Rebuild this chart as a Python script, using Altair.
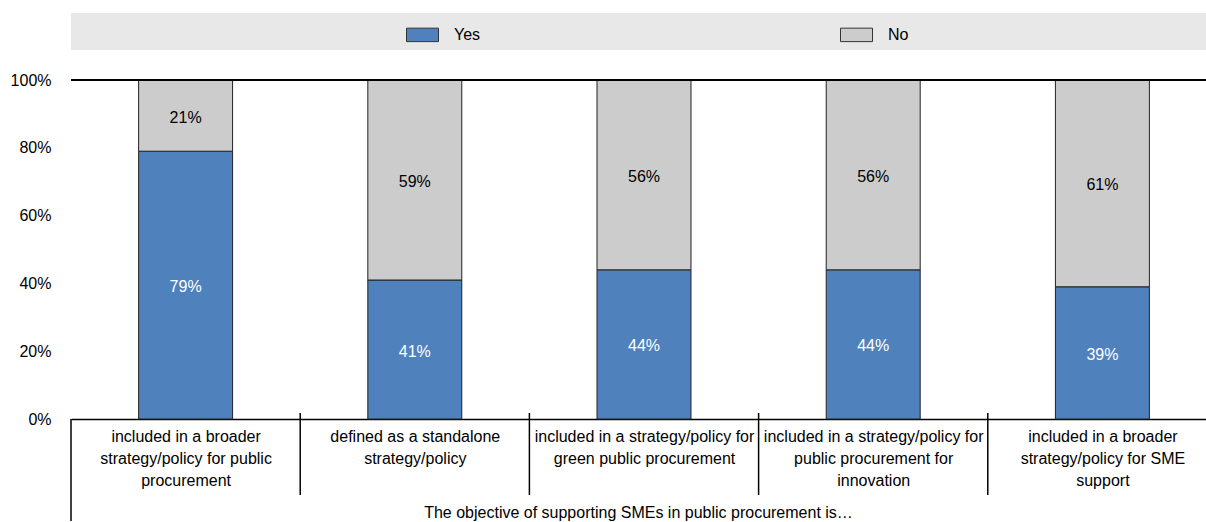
import altair as alt
import pandas as pd

categories = [
    "included in a broader|strategy/policy for public|procurement",
    "defined as a standalone|strategy/policy",
    "included in a strategy/policy for|green public procurement",
    "included in a strategy/policy for|public procurement for|innovation",
    "included in a broader|strategy/policy for SME|support",
]
yes_values = [79, 41, 44, 44, 39]
no_values = [21, 59, 56, 56, 61]
series = ["Yes", "No"]
colors = ["#4F81BD", "#CCCCCC"]
y_ticks = [0, 0.2, 0.4, 0.6, 0.8, 1.0]
x_title = "The objective of supporting SMEs in public procurement is…"

FONT = "Liberation Sans"
W, H = 1135, 339
XRANGE = 1146

rows = []
for i, c in enumerate(categories):
    y = yes_values[i]
    n = no_values[i]
    rows.append({"cat": c, "series": "Yes", "ord": 0, "value": y / 100,
                 "mid": y / 200, "label": f"{y}%"})
    rows.append({"cat": c, "series": "No", "ord": 1, "value": n / 100,
                 "mid": (y + n / 2) / 100, "label": f"{n}%"})
df = pd.DataFrame(rows)

xscale = alt.Scale(paddingInner=0, paddingOuter=0, range=[0, XRANGE])

x_axis = alt.Axis(
    labelExpr="split(datum.label, '|')",
    labelAngle=0, labelLimit=1000, labelFontSize=16, labelColor="black",
    labelBaseline="top", labelPadding=9, labelLineHeight=22, labelOverlap=False,
    labelFont=FONT,
    ticks=False, domain=True, domainColor="black", domainWidth=1.5,
    grid=True, gridColor="white", gridWidth=1, tickBand="extent",
    title=x_title, titleFontSize=16, titleFontWeight="normal", titleColor="black",
    titleFont=FONT, titleY=93, titleX=567, titleAlign="center", titleBaseline="middle",
)
y_axis = alt.Axis(
    values=y_ticks, format=".0%", labelFontSize=16, labelColor="black",
    labelFont=FONT, labelPadding=20, ticks=False, domain=False,
    grid=True, gridColor="white", gridWidth=1, title=None,
)

band = alt.Chart(pd.DataFrame({"k": [0]})).mark_rect(color="#E8E8E8").encode(
    x=alt.value(0), x2=alt.value(W), y=alt.value(-67), y2=alt.value(-30)
)

bars = alt.Chart(df).mark_bar(
    width={"band": 0.41}, stroke="#222222", strokeWidth=1
).encode(
    x=alt.X("cat:N", sort=categories, scale=xscale, axis=x_axis),
    y=alt.Y("value:Q", stack="zero",
            scale=alt.Scale(domain=[0, 1], nice=False), axis=y_axis),
    color=alt.Color(
        "series:N",
        scale=alt.Scale(domain=series, range=colors),
        legend=alt.Legend(
            title=None, orient="none", legendX=335, legendY=-62,
            direction="horizontal", columnPadding=357,
            symbolType="M-1,-0.42H1V0.42H-1Z", symbolSize=1024,
            symbolStrokeColor="#333333", symbolStrokeWidth=1,
            labelFontSize=16, labelColor="black", labelFont=FONT,
            labelOffset=15, padding=0,
        ),
    ),
    order=alt.Order("ord:Q", sort="ascending"),
)

top_rule = alt.Chart(pd.DataFrame({"k": [0]})).mark_rule(
    color="black", strokeWidth=2
).encode(x=alt.value(0), x2=alt.value(W), y=alt.value(0))

text_yes = alt.Chart(df).transform_filter("datum.series == 'Yes'").mark_text(
    color="white", fontSize=16, font=FONT, baseline="middle", dy=2
).encode(
    x=alt.X("cat:N", sort=categories),
    y=alt.Y("mid:Q"),
    text="label:N",
)
text_no = alt.Chart(df).transform_filter("datum.series == 'No'").mark_text(
    color="black", fontSize=16, font=FONT, baseline="middle", dy=2
).encode(
    x=alt.X("cat:N", sort=categories),
    y=alt.Y("mid:Q"),
    text="label:N",
)

sep_df = pd.DataFrame({"cat": categories[1:]})
seps = alt.Chart(sep_df).mark_rule(color="black", strokeWidth=1.5).encode(
    x=alt.X("cat:N", sort=categories, bandPosition=0),
    y=alt.value(333), y2=alt.value(415),
)
left_line = alt.Chart(pd.DataFrame({"k": [0]})).mark_rule(
    color="black", strokeWidth=1.5
).encode(x=alt.value(0), y=alt.value(H), y2=alt.value(H + 110))

chart = alt.layer(band, bars, top_rule, text_yes, text_no, seps, left_line).properties(
    width=W, height=H,
    autosize=alt.AutoSizeParams(type="none"),
    padding={"left": 71, "top": 80, "right": 0, "bottom": 102},
).configure_view(fill="#F2FFFF", strokeWidth=0).configure(font=FONT)

chart.save("out.html", embed_options={"renderer": "svg", "actions": False})
